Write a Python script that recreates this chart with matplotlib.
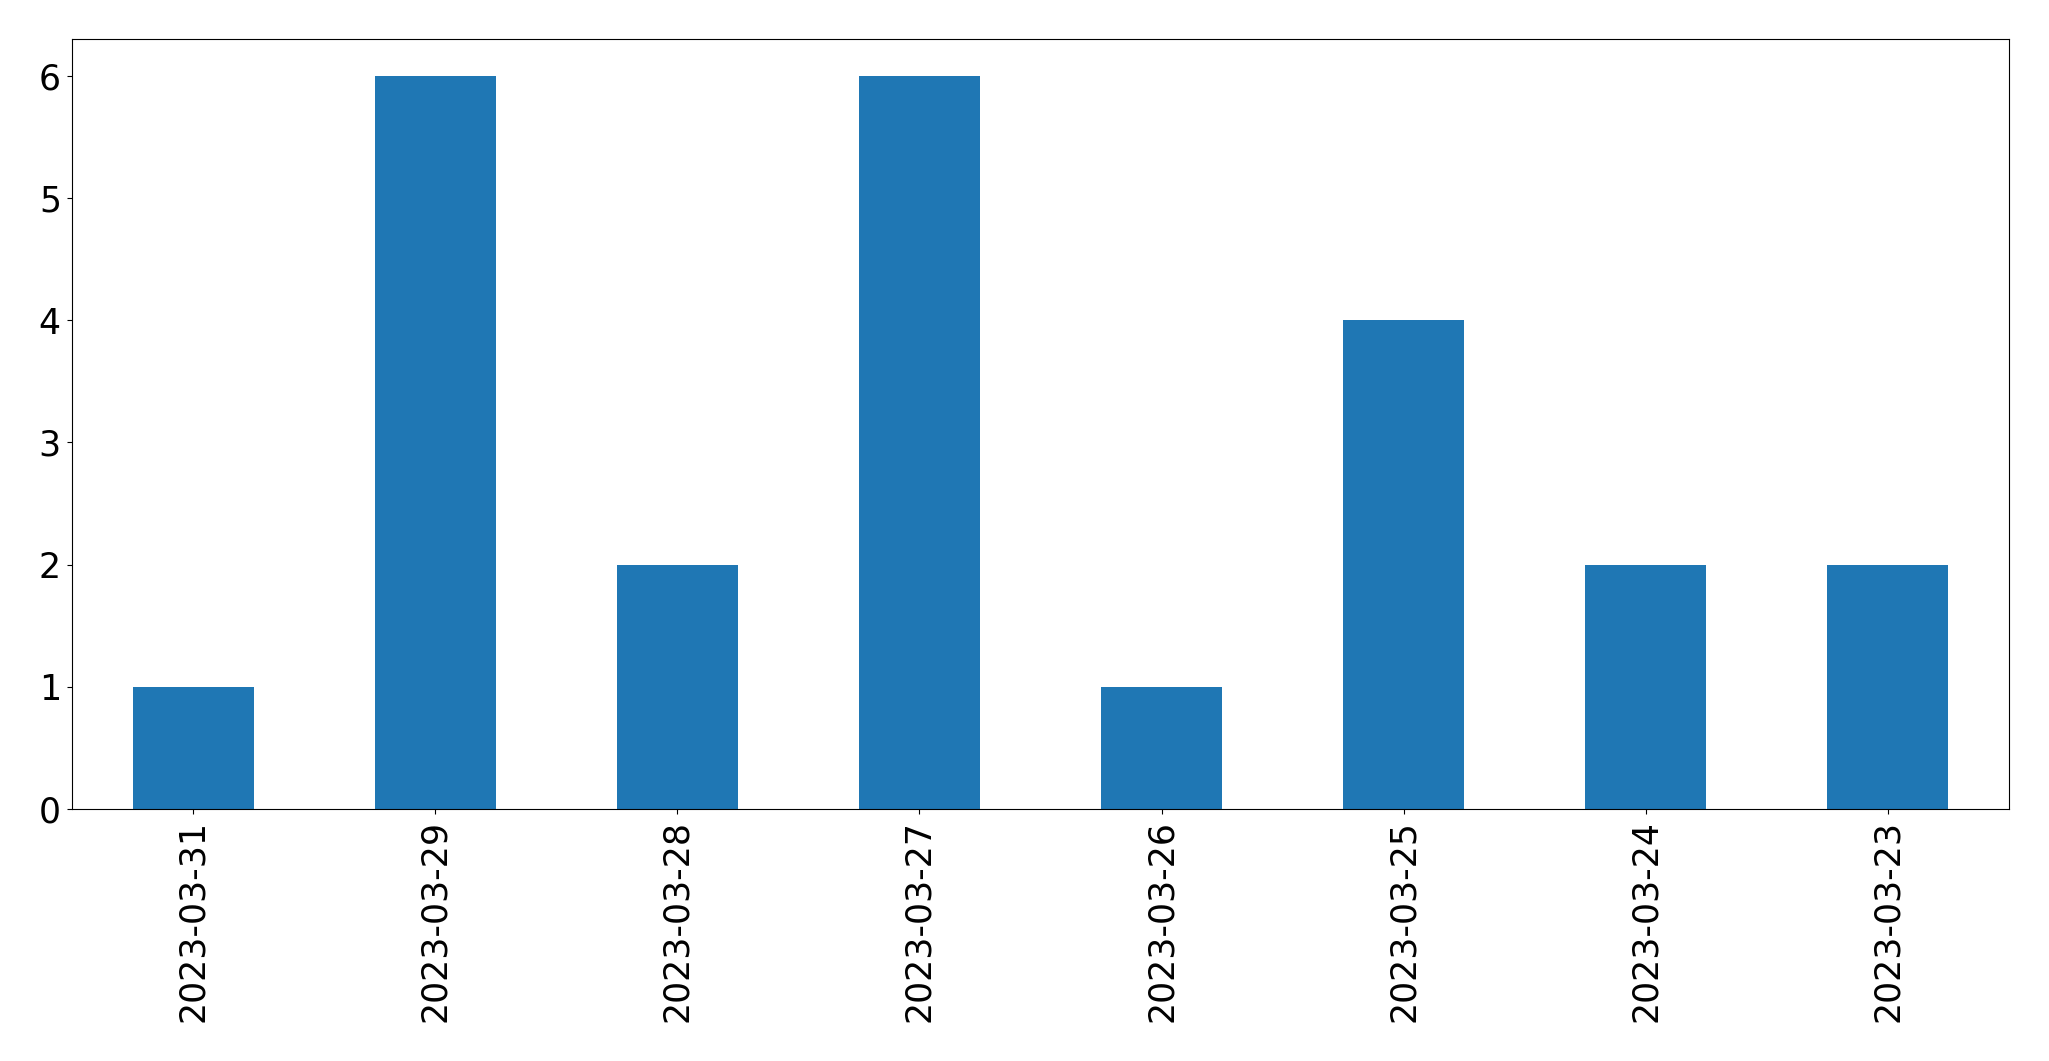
import matplotlib
matplotlib.use("Agg")
import matplotlib.pyplot as plt

dates = ["2023-03-31", "2023-03-29", "2023-03-28", "2023-03-27",
         "2023-03-26", "2023-03-25", "2023-03-24", "2023-03-23"]
counts = [1, 6, 2, 6, 1, 4, 2, 2]

fig = plt.figure(figsize=(20.49, 10.61), dpi=100)
ax = fig.add_axes([72/2049, 1-809/1061, (2009-72)/2049, (809-39)/1061])
x = list(range(len(dates)))
ax.bar(x, counts, width=0.5, color="#1f77b4")
ax.set_xticks(x)
ax.set_xticklabels(dates, rotation=90)
ax.set_xlim(-0.5, len(dates) - 0.5)
ax.set_ylim(0, 6.3)
ax.tick_params(labelsize=25, pad=4.5)
fig.savefig("out.png", dpi=100)
